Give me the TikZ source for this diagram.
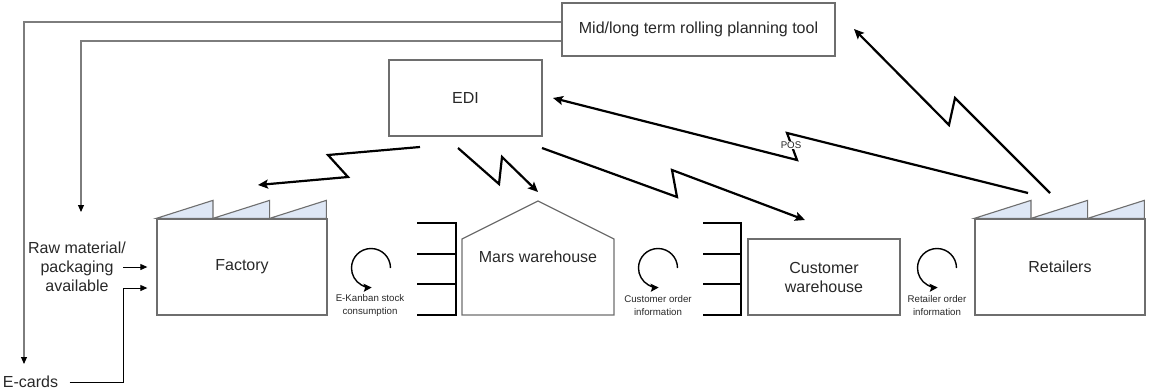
\documentclass[tikz,border=0pt]{standalone}
\usepackage{fontspec}
\setmainfont{Liberation Sans}
\usetikzlibrary{arrows.meta,calc}
\definecolor{boxline}{RGB}{110,110,110}
\definecolor{roof}{RGB}{222,231,245}
\definecolor{txt}{RGB}{40,40,40}
\definecolor{feed}{RGB}{125,125,125}
\begin{document}
\begin{tikzpicture}[x=1pt,y=-1pt,
  every node/.style={text=txt, font=\fontsize{16}{19}\selectfont},
  box/.style={draw=boxline, line width=1.3pt, fill=white, inner sep=0pt},
  rooftooth/.style={draw=boxline, line width=1.1pt, fill=roof, line join=miter},
  bolt/.style={line width=2.2pt, line join=miter, -{Stealth[length=10pt,width=9pt,inset=2pt]}},
  feedline/.style={draw=feed, line width=1.1pt, -{Triangle[color=black,length=7pt,width=6pt]}},
  inarrow/.style={line width=0.9pt, -{Triangle[length=7pt,width=6pt]}},
  rack/.style={line width=1.5pt},
  loopy/.style={line width=1.4pt, -{Stealth[length=8pt,width=8pt,inset=1.5pt]}},
  minor/.style={font=\fontsize{9.7}{13}\selectfont, align=center},
]
\useasboundingbox (0,0) rectangle (1149,391);

% planning tool and EDI
\node[box, minimum width=273, minimum height=53] (plan) at (698.5,29.5) {Mid/long term rolling planning tool};
\node[box, minimum width=153, minimum height=76] (edi) at (465.5,98) {EDI};

% factory with saw-tooth roof
\node[box, minimum width=170, minimum height=96] (fac) at (242,267) {Factory};
\foreach \i in {0,1,2}
  \draw[rooftooth] ($(fac.north west)+(\i*56.667,0)$) -- ++(56.667,-18) -- ++(0,18) -- cycle;

% retailers with saw-tooth roof
\node[box, minimum width=170, minimum height=96] (ret) at (1060,267) {Retailers};
\foreach \i in {0,1,2}
  \draw[rooftooth] ($(ret.north west)+(\i*56.667,0)$) -- ++(56.667,-18) -- ++(0,18) -- cycle;

% Mars warehouse (house outline)
\draw[draw=boxline, line width=1.3pt, line join=miter] (462,315) -- (462,239) -- (538,201) -- (614,239) -- (614,315) -- cycle;
\node (mars) at (538,257) {Mars warehouse};

% customer warehouse
\node[box, minimum width=152, minimum height=76, align=center] (cw) at (824,277) {Customer\\warehouse};

% stock racks
\draw[rack] (417,223) -- (456,223) -- (456,315) -- (417,315);
\draw[rack] (417,254) -- (456,254) (417,284) -- (456,284);
\draw[rack] (703,223) -- (741,223) -- (741,315) -- (703,315);
\draw[rack] (703,254) -- (741,254) (703,284) -- (741,284);

% information loops
\foreach \cx in {371,658,937}
  \draw[loopy] (\cx,268) ++(0:19.5) arc[start angle=0, end angle=-272, radius=19.5];
\node[minor] (lab1) at (370,305.5) {E-Kanban stock\\consumption};
\node[minor] (lab2) at (658,305.5) {Customer order\\information};
\node[minor] (lab3) at (937,305.5) {Retailer order\\information};

% inputs on the left
\node (ecards) at (30.5,382) {E-cards};
\node[align=center] (raw) at (77,267) {Raw material/\\packaging\\available};
\coordinate (l1) at (0,22);
\coordinate (l2) at (0,41);
\coordinate (ecardsin) at (24,364);
\coordinate (rawin) at (81,212);
\coordinate (rawout) at (123,267);
\coordinate (jog) at (123,288);
\draw[feedline] (plan.west |- l1) -| (ecardsin);
\draw[feedline] (plan.west |- l2) -| (rawin);
\draw[inarrow] (rawout) -- ($(fac.west)+(-9,0)$);
\draw[inarrow] ($(ecards.east)+(8,0)$) -| (jog) -- ($(fac.west)+(-9,21)$);

% EDI links (lightning arrows)
\coordinate (z1a) at (420,147); \coordinate (z1b) at (328,155);
\coordinate (z1c) at (348,177); \coordinate (z1d) at (258,185);
\draw[bolt] (z1a) -- (z1b) -- (z1c) -- (z1d);
\coordinate (z2a) at (458,148); \coordinate (z2b) at (499,184);
\coordinate (z2c) at (502,157); \coordinate (z2d) at (538,192);
\draw[bolt] (z2a) -- (z2b) -- (z2c) -- (z2d);
\coordinate (z3a) at (542,148); \coordinate (z3b) at (677,197);
\coordinate (z3c) at (672,170); \coordinate (z3d) at (805,220);
\draw[bolt] (z3a) -- (z3b) -- (z3c) -- (z3d);

% retailer links
\coordinate (z4a) at (1028,193); \coordinate (z4b) at (787,133);
\coordinate (z4c) at (797,160); \coordinate (z4d) at (553,98);
\draw[bolt] (z4a) -- (z4b) -- (z4c) -- (z4d);
\node[minor, fill=white, inner sep=0.5pt] (pos) at (791,145) {POS};
\coordinate (z5a) at (1050,193); \coordinate (z5b) at (955,98);
\coordinate (z5c) at (949,125); \coordinate (z5d) at (854,29);
\draw[bolt] (z5a) -- (z5b) -- (z5c) -- (z5d);
\end{tikzpicture}
\end{document}
